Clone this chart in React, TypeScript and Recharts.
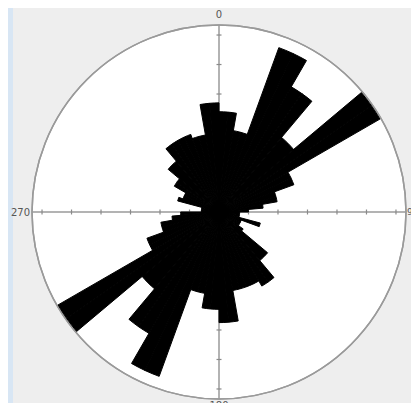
import React from 'react';
import { RadialBarChart, RadialBar, PolarAngleAxis, PolarRadiusAxis, PolarGrid } from 'recharts';

// 5-degree direction bins (compass degrees, clockwise from north)
const binStarts = [
  0, 5, 10, 15, 20, 25, 30, 35, 40, 45, 50, 55,
  60, 65, 70, 75, 80, 85, 90, 95, 100, 105, 110, 115,
  120, 125, 130, 135, 140, 145, 150, 155, 160, 165, 170, 175,
  180, 185, 190, 195, 200, 205, 210, 215, 220, 225, 230, 235,
  240, 245, 250, 255, 260, 265, 270, 275, 280, 285, 290, 295,
  300, 305, 310, 315, 320, 325, 330, 335, 340, 345, 350, 355,
];

// frequency per bin (radius units, one unit per axis tick)
const frequencies = [
  3.4, 3.4, 2.8, 2.8, 5.93, 5.93, 4.9, 4.9, 3.3, 3.3, 6.3, 6.3,
  2.7, 2.7, 2.0, 2.0, 1.5, 1.0, 0.7, 0.7, 0.7, 1.45, 0.8, 0.8,
  0.8, 1.0, 2.15, 2.15, 2.9, 2.9, 2.7, 2.7, 2.7, 2.7, 3.75, 3.75,
  3.3, 3.3, 2.8, 2.8, 5.93, 5.93, 4.75, 4.75, 3.4, 3.4, 6.3, 6.3,
  2.6, 2.6, 2.0, 2.0, 1.6, 1.3, 0.6, 0.6, 0.6, 1.45, 1.3, 1.3,
  1.75, 1.75, 2.25, 2.25, 2.8, 2.8, 2.8, 2.8, 2.65, 2.65, 3.7, 3.7,
];

const radiusTicks = [1, 2, 3, 4, 5, 6];
const R_MAX = 6.34;

// compass labels and their chart angles (counter-clockwise from east)
const compassLabels = ['0', '90', '180', '270'];
const compassAngles = [90, 0, -90, 180];

const data = binStarts.map((b, i) => ({ bin: String(b), freq: frequencies[i] }));

const OUTER_R = 187;
const CX = 211;
const CY = 207;

const CrossTick = (props: any) => {
  const { y, payload } = props;
  const r = CY - y;
  if (payload.value >= R_MAX) {
    return (
      <g>
        {compassAngles.map((ang, k) => {
          const rad = (ang * Math.PI) / 180;
          const dx = Math.cos(rad);
          const dy = -Math.sin(rad);
          let off = 2;
          let anchor: 'start' | 'middle' | 'end' = 'middle';
          let fs = 10;
          if (ang === 90) off = 11;
          else if (ang === -90) off = 6;
          else if (ang === 180) anchor = 'end';
          else {
            anchor = 'start';
            off = 1;
            fs = 9;
          }
          return (
            <text
              key={k}
              x={CX + dx * (r + off)}
              y={CY + dy * (r + off)}
              textAnchor={anchor}
              dominantBaseline="central"
              fontSize={fs}
              fontFamily="DejaVu Sans, sans-serif"
              fill="#555"
            >
              {compassLabels[k]}
            </text>
          );
        })}
      </g>
    );
  }
  return (
    <g>
      {compassAngles.map((ang, k) => (
        <line
          key={k}
          x1={CX - 2.5}
          y1={CY - r}
          x2={CX + 2.5}
          y2={CY - r}
          stroke="#8a8a8a"
          strokeWidth={1.2}
          transform={`rotate(${90 - ang}, ${CX}, ${CY})`}
        />
      ))}
    </g>
  );
};

export default function App() {
  return (
    <div style={{ margin: -8, width: 419, height: 411, background: '#f4f4f4', position: 'relative', overflow: 'hidden' }}>
      <div
        style={{
          position: 'absolute',
          left: 8,
          top: 5,
          width: 411,
          height: 406,
          background: '#eeeeee',
          boxShadow: 'inset 5px -6px 0 #d8e6f4',
        }}
      >
        <RadialBarChart
          width={411}
          height={406}
          cx={CX}
          cy={CY}
          innerRadius={0}
          outerRadius={OUTER_R}
          startAngle={85}
          endAngle={-275}
          data={data}
          layout="centric"
          barCategoryGap={0}
          barGap={0}
          margin={{ top: 0, right: 0, bottom: 0, left: 0 }}
        >
          <PolarGrid
            gridType="circle"
            polarAngles={compassAngles}
            polarRadius={[OUTER_R]}
            radialLines
            stroke="#9a9a9a"
            strokeWidth={1.5}
            fill="#ffffff"
            fillOpacity={1}
          />
          <PolarAngleAxis type="category" dataKey="bin" tick={false} axisLine={false} tickLine={false} />
          <PolarRadiusAxis
            type="number"
            domain={[0, R_MAX]}
            angle={90}
            ticks={[...radiusTicks, R_MAX] as any}
            tick={CrossTick}
            axisLine={false}
            tickLine={false}
            zIndex={-100}
          />
          <RadialBar
            dataKey="freq"
            fill="#000000"
            stroke="#000000"
            strokeWidth={1}
            isAnimationActive={false}
          />
        </RadialBarChart>
      </div>
    </div>
  );
}
